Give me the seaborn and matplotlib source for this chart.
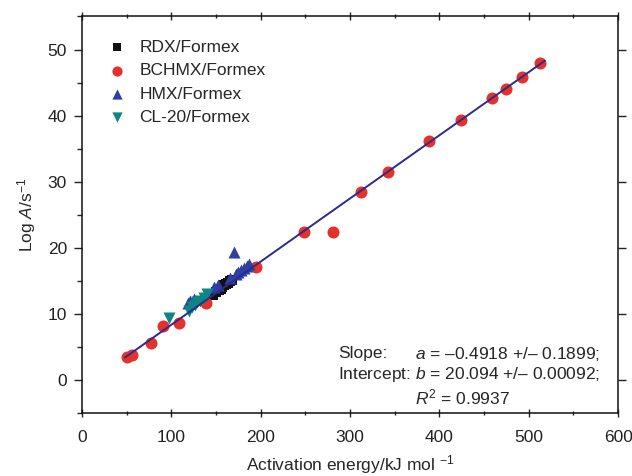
import numpy as np
import pandas as pd
import matplotlib
matplotlib.use("Agg")
import matplotlib.pyplot as plt
import seaborn as sns
from matplotlib.ticker import MultipleLocator

# Data
rdx_x = [146, 150, 153, 155, 157, 159, 161, 163, 165, 168]
rdx_y = [12.9, 13.3, 13.6, 13.8, 14.0, 14.3, 14.5, 14.6, 14.9, 15.1]

bchmx_x = [50, 56, 77, 91, 108, 139, 195, 248, 281, 312, 342, 388, 424, 459, 475, 492, 513]
bchmx_y = [3.4, 3.8, 5.6, 8.1, 8.6, 11.6, 17.1, 22.4, 22.4, 28.5, 31.4, 36.1, 39.3, 42.7, 44.1, 45.9, 47.9]

hmx_x = [118, 121, 125, 148, 152, 166, 170, 172, 175, 178, 181, 184, 187]
hmx_y = [11.6, 11.9, 12.2, 14.1, 14.4, 15.5, 19.3, 16.1, 16.4, 16.7, 17.0, 17.3, 17.5]

cl20_x = [97, 120, 123, 126, 129, 132, 136, 140]
cl20_y = [9.3, 10.5, 11.0, 11.4, 11.8, 12.0, 12.4, 13.0]

fit_x = [48, 518]
fit_y = [3.4, 48.3]

series = ["RDX/Formex", "BCHMX/Formex", "HMX/Formex", "CL-20/Formex"]
colors = ["#111111", "#e4322b", "#2e3fa3", "#0e8582"]
markers = ["s", "o", "^", "v"]
sizes = [45, 75, 75, 75]

df = pd.concat([
    pd.DataFrame({"E": rdx_x, "logA": rdx_y, "set": series[0]}),
    pd.DataFrame({"E": bchmx_x, "logA": bchmx_y, "set": series[1]}),
    pd.DataFrame({"E": hmx_x, "logA": hmx_y, "set": series[2]}),
    pd.DataFrame({"E": cl20_x, "logA": cl20_y, "set": series[3]}),
])
fit = pd.DataFrame({"E": fit_x, "logA": fit_y})

sns.set_style("ticks")
plt.rcParams["font.family"] = ["Liberation Sans", "DejaVu Sans"]
plt.rcParams["mathtext.fontset"] = "custom"
plt.rcParams["mathtext.rm"] = "Liberation Sans"
plt.rcParams["mathtext.it"] = "Liberation Sans:italic"

fs = 12.5

fig = plt.figure(figsize=(6.32, 4.76), dpi=100)
ax = fig.add_axes([0.130, 0.1324, 0.848, 0.8330])

for name, c, m, s in zip(series, colors, markers, sizes):
    sns.scatterplot(data=df[df["set"] == name], x="E", y="logA", color=c,
                    marker=m, s=s, linewidth=0, label=name, ax=ax, zorder=3)

# fitted line
sns.lineplot(data=fit, x="E", y="logA", color="#2b2a8e", linewidth=1.4,
             ax=ax, zorder=4)

ax.set_xlim(0, 600)
ax.set_ylim(-5, 55)
ax.xaxis.set_major_locator(MultipleLocator(100))
ax.xaxis.set_minor_locator(MultipleLocator(50))
ax.yaxis.set_major_locator(MultipleLocator(10))
ax.yaxis.set_minor_locator(MultipleLocator(5))
ax.tick_params(axis="both", which="major", direction="out", length=6,
               width=1, labelsize=fs, colors="#222222")
ax.tick_params(axis="both", which="minor", direction="out", length=3.5, width=1)
ax.tick_params(axis="x", which="both", top=True, direction="inout", pad=9)
ax.tick_params(axis="y", which="major", right=True, left=True, pad=5)
ax.tick_params(axis="y", which="minor", right=False, left=True)

for sp in ax.spines.values():
    sp.set_linewidth(1.1)
    sp.set_color("#111111")

ax.set_xlabel("Activation energy/kJ mol $^{-1}$", fontsize=fs, labelpad=6)
ax.set_ylabel("Log $\\it{A}$/s$^{-1}$", fontsize=fs, labelpad=7)

leg = ax.legend(loc="upper left", frameon=False, fontsize=fs,
                bbox_to_anchor=(0.026, 0.972), handletextpad=0.8,
                labelspacing=0.47, borderaxespad=0.3, markerscale=0.85,
                handlelength=1.0)

ax.text(0.478, 0.149, "Slope:", transform=ax.transAxes, fontsize=fs,
        va="center", ha="left")
ax.text(0.621, 0.149, "$\\it{a}$ = \u20130.4918 +/\u2013 0.1899;",
        transform=ax.transAxes, fontsize=fs, va="center", ha="left")
ax.text(0.478, 0.096, "Intercept: $\\it{b}$ = 20.094 +/\u2013 0.00092;",
        transform=ax.transAxes, fontsize=fs, va="center", ha="left")
ax.text(0.621, 0.040, "$\\it{R}^{2}$ = 0.9937", transform=ax.transAxes,
        fontsize=fs, va="center", ha="left")

fig.savefig("out.png", dpi=100)
